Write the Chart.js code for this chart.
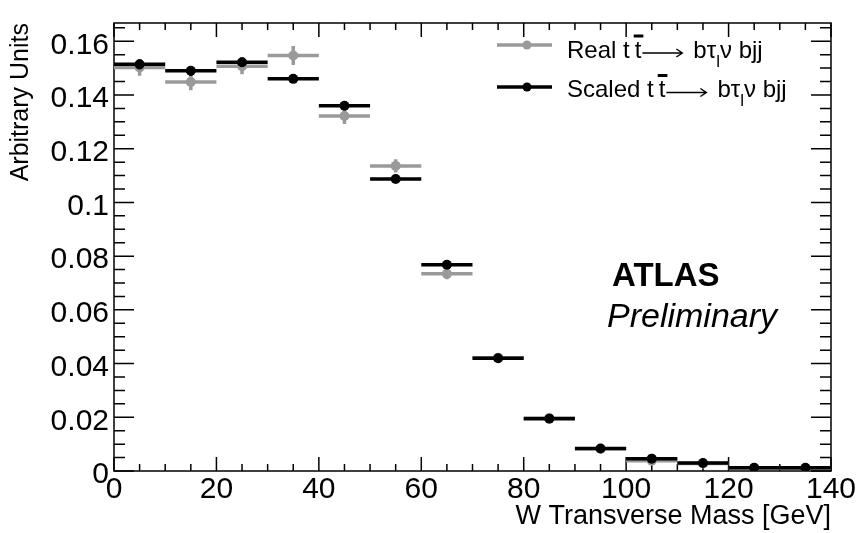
<!DOCTYPE html>
<html>
<head>
<meta charset="utf-8">
<script src="https://cdn.jsdelivr.net/npm/chart.js@4.4.0/dist/chart.umd.min.js"></script>
<style>
  html, body { margin: 0; padding: 0; background: #fff; }
  #wrap { width: 859px; height: 533px; }
</style>
</head>
<body>
<div id="wrap"><canvas id="chart" width="859" height="533"></canvas></div>
<script>
// W transverse mass, 10 GeV bins
const binCenters = [5, 15, 25, 35, 45, 55, 65, 75, 85, 95, 105, 115, 125, 135];
const binHalfWidth = 5;
const seriesNames = ['Real', 'Scaled'];
const realValues = [0.1502, 0.1448, 0.1507, 0.1547, 0.1322, 0.1136, 0.0734, 0.0422, 0.0197, 0.0083, 0.0038, 0.0028, 0.0011, 0.0010];
const realErrors = [0.003, 0.003, 0.003, 0.0035, 0.003, 0.0025, 0.002, 0.0015, 0.001, 0.0008, 0.0006, 0.0005, 0.0003, 0.0003];
const scaledValues = [0.1514, 0.1490, 0.1522, 0.1460, 0.1360, 0.1087, 0.0768, 0.0420, 0.0195, 0.0084, 0.0046, 0.0030, 0.0012, 0.0012];
const scaledErrors = [0.0018, 0.0018, 0.0018, 0.0015, 0.0015, 0.0012, 0.001, 0.0008, 0.0006, 0.0004, 0.0003, 0.0002, 0.0001, 0.0001];
const xTicks = [0, 20, 40, 60, 80, 100, 120, 140];
const xTickLabels = ['0', '20', '40', '60', '80', '100', '120', '140'];
const yTicks = [0, 0.02, 0.04, 0.06, 0.08, 0.1, 0.12, 0.14, 0.16];
const yTickLabels = ['0', '0.02', '0.04', '0.06', '0.08', '0.1', '0.12', '0.14', '0.16'];

const FONT = '"Liberation Sans", Arial, Helvetica, sans-serif';
const GRAY = '#9a9a9a';

const toPoints = (vals) => vals.map((v, i) => ({ x: binCenters[i], y: v }));

// horizontal bin-width bars + vertical errors, drawn just before each dataset's markers
const errorBars = {
  id: 'errorBars',
  beforeDatasetDraw(chart, args) {
    const ds = chart.data.datasets[args.index];
    const { ctx, scales: { x, y } } = chart;
    ctx.save();
    ctx.strokeStyle = ds.borderColor;
    ctx.lineWidth = 3.5;
    ds.data.forEach((p, i) => {
      const py = y.getPixelForValue(p.y);
      const px = x.getPixelForValue(p.x);
      ctx.beginPath();
      ctx.moveTo(x.getPixelForValue(p.x - binHalfWidth), py);
      ctx.lineTo(x.getPixelForValue(p.x + binHalfWidth), py);
      ctx.moveTo(px, y.getPixelForValue(p.y - ds.errors[i]));
      ctx.lineTo(px, y.getPixelForValue(p.y + ds.errors[i]));
      ctx.stroke();
    });
    ctx.restore();
  }
};

// ROOT style frame with inner ticks on all four sides
const frame = {
  id: 'frame',
  beforeDatasetsDraw(chart) {
    const { ctx, chartArea: a, scales: { x, y } } = chart;
    ctx.save();
    ctx.strokeStyle = '#000';
    ctx.lineWidth = 1.5;
    ctx.strokeRect(a.left, a.top, a.right - a.left, a.bottom - a.top);
    ctx.beginPath();
    for (let v = 0; v <= 140; v += 5) {
      const px = x.getPixelForValue(v);
      const len = v % 20 === 0 ? 14 : 7;
      ctx.moveTo(px, a.bottom); ctx.lineTo(px, a.bottom - len);
      ctx.moveTo(px, a.top); ctx.lineTo(px, a.top + len);
    }
    for (let k = 0; k * 0.005 <= y.max; k++) {
      const py = y.getPixelForValue(k * 0.005);
      const len = k % 4 === 0 ? 20 : 11;
      ctx.moveTo(a.left, py); ctx.lineTo(a.left + len, py);
      ctx.moveTo(a.right, py); ctx.lineTo(a.right - len, py);
    }
    ctx.stroke();
    ctx.restore();
  }
};

// legend text, ROOT latex look: t#bar{t} #rightarrow b#tau_{l}#nu bjj
function legendLabel(ctx, name, x0, base) {
  const big = '24px ' + FONT;
  const small = '17px ' + FONT;
  let cx = x0;
  const put = (s, font, dy) => {
    ctx.font = font;
    ctx.fillText(s, cx, base + dy);
    const w = ctx.measureText(s).width;
    cx += w;
    return w;
  };
  put(name + ' t', big, 0);
  cx += 5;
  const tx = cx;
  const tw = put('t', big, 0);
  ctx.fillRect(tx - 1, base - 23, tw + 3, 3);
  // long arrow
  const ay = base - 4.5;
  ctx.save();
  ctx.strokeStyle = '#000';
  ctx.lineWidth = 1.4;
  ctx.beginPath();
  ctx.moveTo(cx + 1, ay); ctx.lineTo(cx + 41, ay);
  ctx.moveTo(cx + 35, ay - 4); ctx.lineTo(cx + 41, ay); ctx.lineTo(cx + 35, ay + 4);
  ctx.stroke();
  ctx.restore();
  cx += 52;
  put('b\u03c4', big, 0);
  put('l', small, 9);
  put('\u03bd bjj', big, 0);
}

const annotations = {
  id: 'annotations',
  afterDraw(chart) {
    const { ctx } = chart;
    ctx.save();
    ctx.textAlign = 'left';
    ctx.textBaseline = 'alphabetic';
    ctx.fillStyle = '#000';
    const rows = [
      { color: GRAY, lineY: 45, base: 57.5, name: seriesNames[0] },
      { color: '#000', lineY: 87, base: 97, name: seriesNames[1] }
    ];
    rows.forEach(r => {
      ctx.strokeStyle = r.color;
      ctx.fillStyle = r.color;
      ctx.lineWidth = 3.5;
      ctx.beginPath();
      ctx.moveTo(497, r.lineY); ctx.lineTo(552, r.lineY);
      ctx.stroke();
      ctx.beginPath();
      ctx.arc(527, r.lineY, 4.5, 0, Math.PI * 2);
      ctx.fill();
      ctx.fillStyle = '#000';
      legendLabel(ctx, r.name, 567, r.base);
    });
    ctx.font = 'bold 33px ' + FONT;
    ctx.fillText('ATLAS', 612, 286);
    ctx.font = 'italic 34px ' + FONT;
    ctx.fillText('Preliminary', 607, 327);
    ctx.restore();
  }
};

new Chart(document.getElementById('chart'), {
  type: 'scatter',
  data: {
    datasets: [
      {
        label: seriesNames[0],
        data: toPoints(realValues),
        errors: realErrors,
        borderColor: GRAY,
        backgroundColor: GRAY,
        pointRadius: 5,
        pointBorderWidth: 0,
        order: 1
      },
      {
        label: seriesNames[1],
        data: toPoints(scaledValues),
        errors: scaledErrors,
        borderColor: '#000',
        backgroundColor: '#000',
        pointRadius: 5,
        pointBorderWidth: 0,
        order: 0
      }
    ]
  },
  options: {
    responsive: false,
    animation: false,
    layout: { padding: { top: 7, right: 28, left: 0, bottom: 0 } },
    plugins: {
      legend: { display: false },
      tooltip: { enabled: false }
    },
    scales: {
      x: {
        type: 'linear',
        min: 0,
        max: 140,
        grid: { display: false, drawTicks: false },
        border: { display: false },
        afterBuildTicks: (s) => { s.ticks = xTicks.map(v => ({ value: v })); },
        afterFit: (s) => { s.height = 62; },
        ticks: {
          padding: 1,
          color: '#000',
          font: { family: FONT, size: 30 },
          maxRotation: 0,
          callback: (v, i) => xTickLabels[i]
        },
        title: {
          display: true,
          text: 'W Transverse Mass [GeV]',
          align: 'end',
          color: '#000',
          font: { family: FONT, size: 27 },
          padding: { top: 0, bottom: 0 }
        }
      },
      y: {
        type: 'linear',
        min: 0,
        max: 0.1668,
        grid: { display: false, drawTicks: false },
        border: { display: false },
        afterBuildTicks: (s) => { s.ticks = yTicks.map(v => ({ value: v })); },
        afterFit: (s) => { s.width = 114; },
        ticks: {
          padding: 5,
          labelOffset: 4,
          color: '#000',
          font: { family: FONT, size: 30 },
          callback: (v, i) => yTickLabels[i]
        },
        title: {
          display: true,
          text: 'Arbitrary Units',
          align: 'end',
          color: '#000',
          font: { family: FONT, size: 25 },
          padding: { top: 6, bottom: 0 }
        }
      }
    }
  },
  plugins: [errorBars, frame, annotations]
});
</script>
</body>
</html>
